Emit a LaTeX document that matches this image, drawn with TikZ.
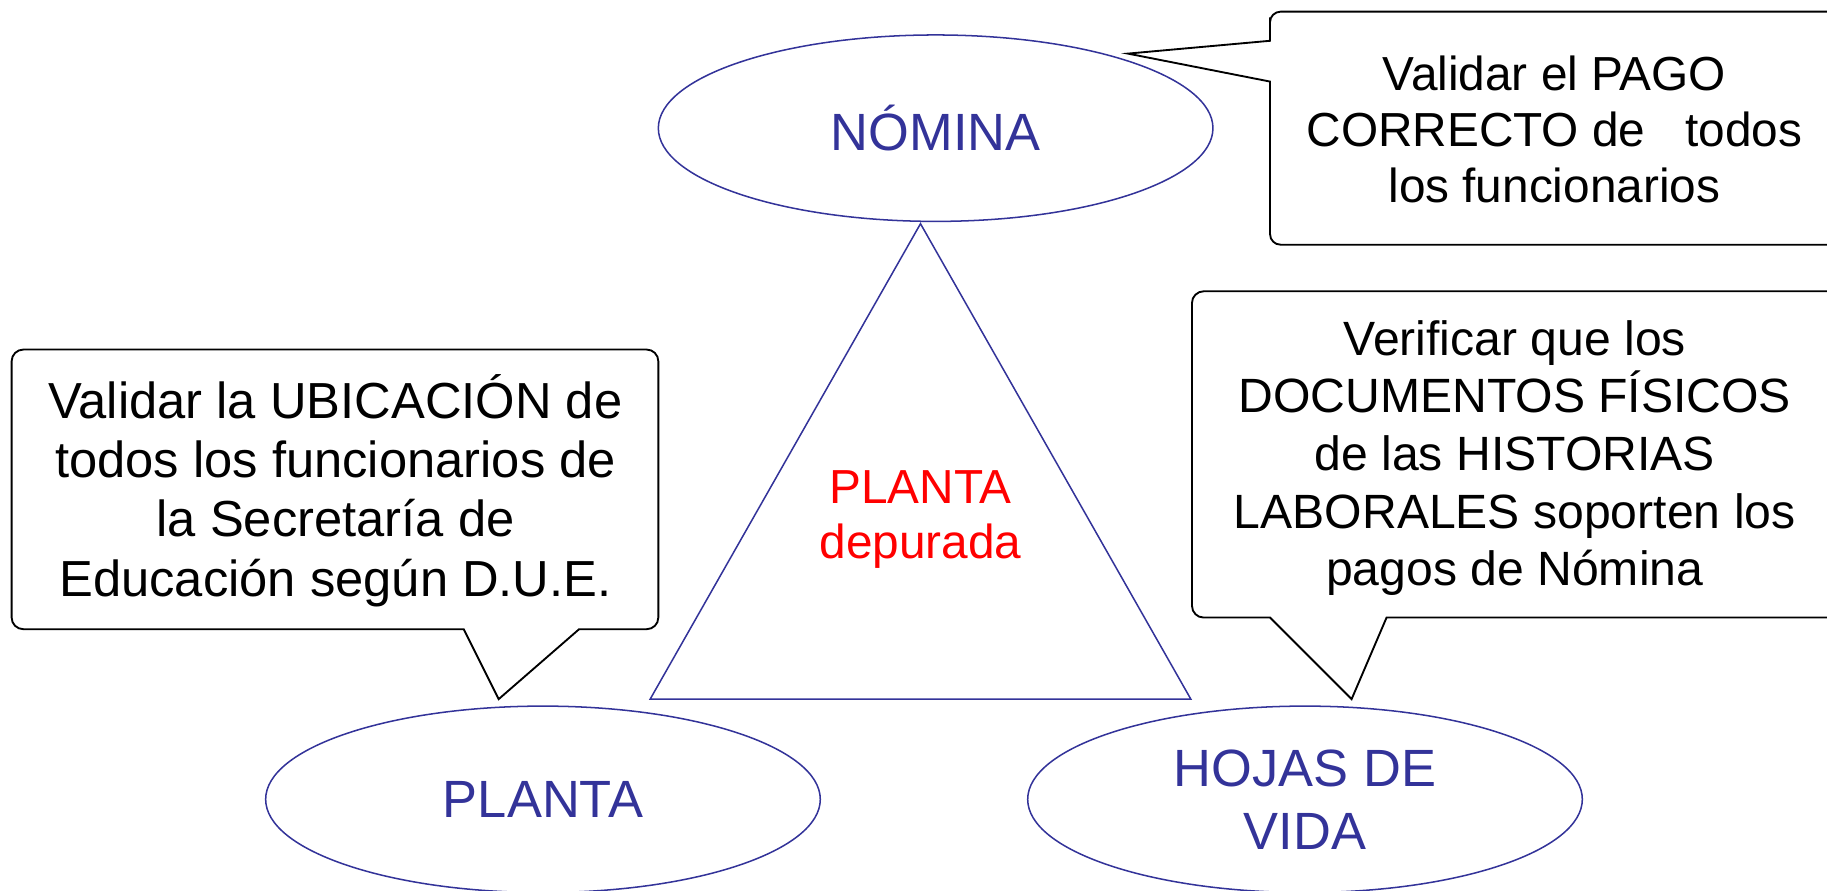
\documentclass[tikz,border=0pt]{standalone}
\usepackage{fontspec}
\setmainfont{Liberation Sans}
\usetikzlibrary{shapes.geometric}
\definecolor{nblue}{RGB}{51,51,153}
\begin{document}
\begin{tikzpicture}[x=1pt,y=-1pt,
  oval/.style={draw=nblue,line width=1.3pt,ellipse,minimum width=476pt,minimum height=160pt,inner sep=0pt,text=nblue,font=\fontsize{45}{54}\selectfont,align=center},
  calloutbox/.style={draw=black,line width=1.6pt,line join=miter,fill=white},
  calltext/.style={align=center,text=black,inner sep=0pt},
  tri/.style={draw=nblue,line width=1.3pt,line join=miter}]
\useasboundingbox (0,0) rectangle (1568,764);
% ellipses
\node[oval] (nomina) at (803,110) {NÓMINA};
\node[oval] (planta) at (466,686) {PLANTA};
\node[oval] (hojas) at (1120,686) {HOJAS DE\\VIDA};
% triangle
\coordinate (apex) at (790,192);
\coordinate (bl) at (558,600);
\coordinate (br) at (1022,600);
\draw[tri] (apex) -- (br) -- (bl) -- cycle;
\node[calltext,text=red,font=\fontsize{41}{47}\selectfont] (depurada) at (790,446) {PLANTA\\depurada};
% callout top right
\coordinate (tipA) at (968,46);
\draw[calloutbox] (1345,210) [rounded corners=9pt] -- (1600,210) -- (1600,10) -- (1090,10) -- (1090,24) [sharp corners] -- (1090,35) -- (tipA) -- (1090,70) -- (1090,100) [rounded corners=9pt] -- (1090,210) -- (1200,210) [sharp corners] -- cycle;
\node[calltext,font=\fontsize{41}{48}\selectfont] (pago) at (1334,111) {Validar el PAGO\\CORRECTO de\ \ \ todos\\los funcionarios};
% callout left
\coordinate (tipB) at (428,600);
\draw[calloutbox] (10,420) [rounded corners=10pt] -- (10,540) -- (380,540) [sharp corners] -- (398,540) -- (tipB) -- (497,540) -- (520,540) [rounded corners=10pt] -- (565,540) -- (565,300) -- (10,300) -- (10,400) [sharp corners] -- cycle;
\node[calltext,font=\fontsize{43.5}{51}\selectfont] (ubicacion) at (288,421) {Validar la UBICACIÓN de\\todos los funcionarios de\\la Secretaría de\\Educación según D.U.E.};
% callout right
\coordinate (tipC) at (1160,600);
\draw[calloutbox] (1023,400) [rounded corners=10pt] -- (1023,530) -- (1070,530) [sharp corners] -- (1090,530) -- (tipC) -- (1190,530) -- (1210,530) [rounded corners=10pt] -- (1600,530) -- (1600,250) -- (1023,250) -- (1023,380) [sharp corners] -- cycle;
\node[calltext,font=\fontsize{41.3}{49.5}\selectfont] (documentos) at (1300,393) {Verificar que los\\DOCUMENTOS FÍSICOS\\de las HISTORIAS\\LABORALES soporten los\\pagos de Nómina};
\end{tikzpicture}
\end{document}
